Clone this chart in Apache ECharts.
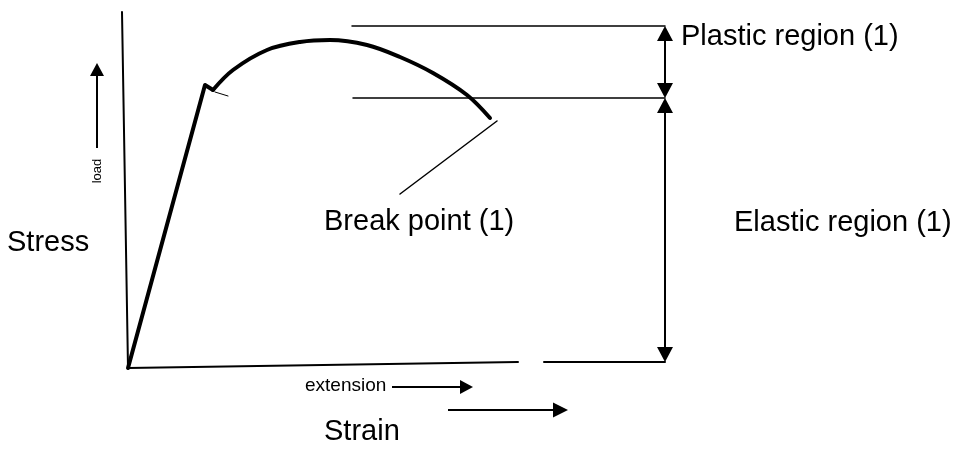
<!DOCTYPE html>
<html>
<head>
<meta charset="utf-8">
<script src="https://cdn.jsdelivr.net/npm/echarts@6/dist/echarts.min.js"></script>
<style>
  html, body { margin: 0; padding: 0; background: #fff; }
  #chart { width: 961px; height: 461px; }
</style>
</head>
<body>
<div id="chart"></div>
<script>
// 坐标单位: strain 向右, stress 向上, 原点在曲线起点
// 弹性段 (直线上升到屈服点)
const elasticLine = [[0, 0], [77, 283], [85, 278]];
// 塑性段 (圆弧到断裂点)
const plasticArc = [[85, 278], [105, 298], [139, 318], [172, 326], [202, 328], [239, 323],
                    [272, 311], [305, 295], [339, 273], [362, 250]];
const yieldTick = [[87, 276], [100, 272]];

// 坐标轴 (手绘, 略倾斜)
const stressAxis = [[-6, 356], [0, 0]];
const strainAxis1 = [[0, 0], [390, 6]];
const strainAxis2 = [[416, 6], [537, 6]];

// 参考水平线
const topLine = [[224, 342], [537, 342]];
const midLine = [[225, 270], [537, 270]];
const breakLeader = [[369, 247], [272, 174]];

// 双向箭头 (region)
const plasticSpan = [342, 270];
const elasticSpan = [270, 6];
const spanX = 537;

// 单向箭头 [起点, 箭尖]
const loadArrow = [[-31, 220], [-31, 305]];
const extensionArrow = [[264, -19], [345, -19]];
const strainArrow = [[320, -42], [440, -42]];

const chart = echarts.init(document.getElementById('chart'), null, { renderer: 'canvas' });

function seg(data, width, extra) {
    return Object.assign({
        type: 'line',
        data: data,
        symbol: 'none',
        silent: true,
        animation: false,
        lineStyle: { color: '#000', width: width, cap: 'round', join: 'round' }
    }, extra || {});
}

// 箭头: 三角形居中于端点, 所以把端点退回半个箭头
function arrowLine(from, tip, head) {
    const dx = tip[0] - from[0], dy = tip[1] - from[1];
    const len = Math.sqrt(dx * dx + dy * dy);
    const back = head[1] / 2;
    return [
        { coord: from },
        { coord: [tip[0] - dx / len * back, tip[1] - dy / len * back] }
    ];
}

function doubleArrow(a, b, head) {
    const s = a > b ? -1 : 1;
    return [
        { coord: [spanX, a + s * head[1] / 2] },
        { coord: [spanX, b - s * head[1] / 2] }
    ];
}

const arrowStyle = { color: '#000', width: 2, type: 'solid' };
const bigFont = '29px "Liberation Sans", Arial, sans-serif';

const option = {
    animation: false,
    grid: { left: 0, right: 0, top: 0, bottom: 0 },
    xAxis: { type: 'value', min: -128, max: 833, show: false },
    yAxis: { type: 'value', min: -93, max: 368, show: false },
    series: [
        seg(elasticLine, 4),
        seg(plasticArc, 4, { smooth: 0.35 }),
        seg(yieldTick, 1),
        seg(stressAxis, 2),
        seg(strainAxis1, 2),
        seg(strainAxis2, 2),
        seg(topLine, 1.5),
        seg(midLine, 1.5),
        seg(breakLeader, 1.5),
        {
            type: 'line',
            data: [],
            markLine: {
                silent: true,
                animation: false,
                label: { show: false },
                lineStyle: arrowStyle,
                symbol: ['triangle', 'triangle'],
                symbolSize: [16, 15],
                data: [
                    doubleArrow(plasticSpan[0], plasticSpan[1], [16, 15]),
                    doubleArrow(elasticSpan[0], elasticSpan[1], [16, 15])
                ]
            }
        },
        {
            type: 'line',
            data: [],
            markLine: {
                silent: true,
                animation: false,
                label: { show: false },
                lineStyle: arrowStyle,
                symbol: ['none', 'triangle'],
                symbolSize: [14, 13],
                data: [
                    arrowLine(loadArrow[0], loadArrow[1], [14, 13]),
                    arrowLine(extensionArrow[0], extensionArrow[1], [13, 13])
                ]
            }
        },
        {
            type: 'line',
            data: [],
            markLine: {
                silent: true,
                animation: false,
                label: { show: false },
                lineStyle: arrowStyle,
                symbol: ['none', 'triangle'],
                symbolSize: [15, 15],
                data: [
                    arrowLine(strainArrow[0], strainArrow[1], [15, 15])
                ]
            }
        }
    ],
    graphic: [
        { type: 'text', x: 681, y: 37, style: { text: 'Plastic region (1)', font: bigFont, fill: '#000', align: 'left', verticalAlign: 'middle' } },
        { type: 'text', x: 734, y: 223, style: { text: 'Elastic region (1)', font: bigFont, fill: '#000', align: 'left', verticalAlign: 'middle' } },
        { type: 'text', x: 324, y: 222, style: { text: 'Break point (1)', font: bigFont, fill: '#000', align: 'left', verticalAlign: 'middle' } },
        { type: 'text', x: 7, y: 243, style: { text: 'Stress', font: bigFont, fill: '#000', align: 'left', verticalAlign: 'middle' } },
        { type: 'text', x: 324, y: 432, style: { text: 'Strain', font: bigFont, fill: '#000', align: 'left', verticalAlign: 'middle' } },
        { type: 'text', x: 305, y: 386, style: { text: 'extension', font: '19px "Liberation Sans", Arial, sans-serif', fill: '#000', align: 'left', verticalAlign: 'middle' } },
        { type: 'text', x: 97, y: 171, rotation: Math.PI / 2, style: { text: 'load', font: '13px "Liberation Sans", Arial, sans-serif', fill: '#000', align: 'center', verticalAlign: 'middle' } }
    ]
};

chart.setOption(option);
</script>
</body>
</html>
